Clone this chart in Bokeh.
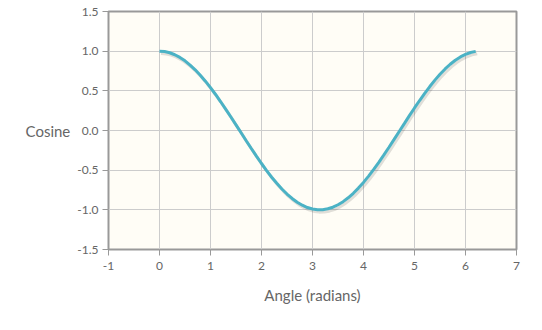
from bokeh.plotting import figure
from bokeh.models import FixedTicker, NumeralTickFormatter, ColumnDataSource
from bokeh.transform import dodge
from bokeh.embed import file_html
from bokeh.resources import INLINE

angle = [round(i * 0.1, 1) for i in range(63)]
cosine = [1.000, 0.995, 0.980, 0.955, 0.921, 0.878, 0.825, 0.765, 0.697, 0.622,
          0.540, 0.454, 0.362, 0.267, 0.170, 0.071, -0.029, -0.129, -0.227, -0.323,
          -0.416, -0.505, -0.589, -0.666, -0.737, -0.801, -0.857, -0.904, -0.942, -0.971,
          -0.990, -0.999, -0.998, -0.987, -0.967, -0.936, -0.897, -0.848, -0.791, -0.726,
          -0.654, -0.575, -0.490, -0.401, -0.307, -0.211, -0.112, -0.012, 0.087, 0.187,
          0.284, 0.378, 0.469, 0.554, 0.635, 0.709, 0.776, 0.835, 0.886, 0.927,
          0.960, 0.983, 0.997]
x_ticks = [-1, 0, 1, 2, 3, 4, 5, 6, 7]
y_ticks = [-1.5, -1.0, -0.5, 0.0, 0.5, 1.0, 1.5]

src = ColumnDataSource(dict(x=angle, y=cosine))

FONT = "Lato"
p = figure(width=542, height=330, output_backend="svg", toolbar_location=None,
           x_range=(-1, 7), y_range=(-1.5, 1.5),
           min_border_left=108, min_border_right=26, min_border_top=11, min_border_bottom=81)
p.background_fill_color = "#fffdf6"
p.border_fill_color = "white"
p.outline_line_color = "#999999"
p.outline_line_width = 2

# shadow
p.line(x=dodge('x', 0.03, range=p.x_range), y=dodge('y', -0.03, range=p.y_range),
       source=src, line_color="#000000", line_alpha=0.12, line_width=3)
p.line(x='x', y='y', source=src, line_color="#4bb2c5", line_width=3)

for ax in (p.xaxis[0], p.yaxis[0]):
    ax.axis_line_color = None
    ax.major_tick_in = 0
    ax.major_tick_out = 6
    ax.major_tick_line_color = "#999999"
    ax.minor_tick_line_color = None
    ax.major_label_text_color = "#666666"
    ax.major_label_text_font = FONT
    ax.major_label_text_font_size = "12px"
    ax.axis_label_text_color = "#666666"
    ax.axis_label_text_font = FONT
    ax.axis_label_text_font_size = "15px"
    ax.axis_label_text_font_style = "normal"

p.xaxis.ticker = FixedTicker(ticks=x_ticks)
p.yaxis.ticker = FixedTicker(ticks=y_ticks)
p.xaxis.formatter = NumeralTickFormatter(format="0")
p.yaxis.formatter = NumeralTickFormatter(format="0.0")
p.xaxis.axis_label = "Angle (radians)"
p.yaxis.axis_label = "Cosine"
p.yaxis.axis_label_orientation = "horizontal"
p.xaxis.axis_label_standoff = 13
p.yaxis.axis_label_standoff = 4
p.xaxis.major_label_standoff = 6
p.yaxis.major_label_standoff = 4

p.grid.grid_line_color = "#cccccc"
p.grid.grid_line_width = 1
p.xgrid.ticker = FixedTicker(ticks=x_ticks)
p.ygrid.ticker = FixedTicker(ticks=y_ticks)

open("out.html", "w").write(file_html(p, INLINE))
